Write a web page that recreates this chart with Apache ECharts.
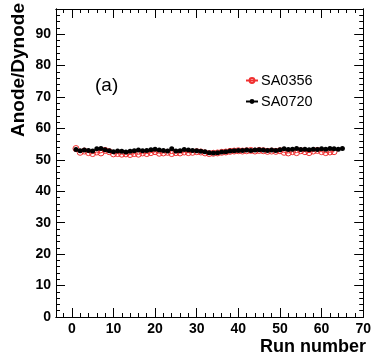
<!DOCTYPE html>
<html><head><meta charset="utf-8">
<script src="https://cdn.jsdelivr.net/npm/echarts@6/dist/echarts.min.js"></script>
<style>html,body{margin:0;padding:0;background:#fff}#c{width:374px;height:361px}</style>
</head><body><div id="c"></div>
<script>
const xMajor = [0,10,20,30,40,50,60,70];
const yMajor = [0,10,20,30,40,50,60,70,80,90];
const xMinor = [-2,2,4,6,8,12,14,16,18,22,24,26,28,32,34,36,38,42,44,46,48,52,54,56,58,62,64,66,68];
const yMinor = [2,4,6,8,12,14,16,18,22,24,26,28,32,34,36,38,42,44,46,48,52,54,56,58,62,64,66,68,72,74,76,78,82,84,86,88,92,94,96];
const runsA = [1,2,3,4,5,6,7,8,9,10,11,12,13,14,15,16,17,18,19,20,21,22,23,24,25,26,27,28,29,30,31,32,33,34,35,36,37,38,39,40,41,42,43,44,45,46,47,48,49,50,51,52,53,54,55,56,57,58,59,60,61,62,63];
const sa0356 = [53.6,52.4,52.8,52.3,52.0,52.5,52.2,53.0,52.6,51.9,52.0,51.8,51.9,51.7,52.0,51.8,52.2,52.0,52.3,52.6,52.1,52.2,52.4,52.0,52.3,52.2,52.5,52.3,52.4,52.6,52.5,52.2,52.0,52.1,52.2,52.4,52.5,52.7,52.8,52.9,52.8,52.9,53.0,52.8,53.0,52.9,52.7,52.8,52.7,52.9,52.4,52.2,52.6,52.3,52.9,52.6,52.3,52.8,53.0,52.6,52.3,52.5,52.6];
const runsB = [1,2,3,4,5,6,7,8,9,10,11,12,13,14,15,16,17,18,19,20,21,22,23,24,25,26,27,28,29,30,31,32,33,34,35,36,37,38,39,40,41,42,43,44,45,46,47,48,49,50,51,52,53,54,55,56,57,58,59,60,61,62,63,64,65];
const sa0720 = [53.3,52.9,53.1,53.0,52.8,53.5,53.6,53.2,52.9,52.6,52.8,52.7,52.5,52.7,52.9,53.1,52.9,53.0,53.2,53.4,53.1,53.0,52.8,53.5,52.8,52.9,53.3,53.1,53.0,52.9,52.7,52.6,52.3,52.2,52.3,52.5,52.6,52.8,52.9,53.0,53.0,53.1,53.0,53.1,53.2,53.1,53.0,53.1,53.0,53.2,53.5,53.3,53.4,53.6,53.3,53.4,53.2,53.4,53.3,53.5,53.4,53.6,53.5,53.4,53.6];

const FONT = 'Liberation Sans, Arial, Helvetica, sans-serif';
const XMIN = -3.8, XMAX = 70, YMIN = 0, YMAX = 98;
const line = {show:true, onZero:false, lineStyle:{color:'#000', width:1}};
function xa(pos, ticks, len, labels){
  return {type:'value', position:pos, min:XMIN, max:XMAX, axisLine:line,
    axisTick:{show:true, inside:true, length:len, customValues:ticks, lineStyle:{color:'#000',width:1}},
    axisLabel: labels ? {show:true, customValues:ticks, margin:5, color:'#000', fontFamily:FONT, fontWeight:'bold', fontSize:14} : {show:false},
    splitLine:{show:false}};
}
function ya(pos, ticks, len, labels){
  return {type:'value', position:pos, min:YMIN, max:YMAX, axisLine:line,
    axisTick:{show:true, inside:true, length:len, customValues:ticks, lineStyle:{color:'#000',width:1}},
    axisLabel: labels ? {show:true, customValues:ticks, margin:5, color:'#000', fontFamily:FONT, fontWeight:'bold', fontSize:14} : {show:false},
    splitLine:{show:false}};
}
const chart = echarts.init(document.getElementById('c'), null, {renderer:'canvas'});
chart.setOption({
  animation:false,
  backgroundColor:'#fff',
  grid:{left:56, right:8, top:9, bottom:44, containLabel:false},
  xAxis:[xa('bottom', xMajor, 9, true), xa('bottom', xMinor, 4, false), xa('top', xMajor, 9, false), xa('top', xMinor, 4, false)],
  yAxis:[ya('left', yMajor, 9, true), ya('left', yMinor, 4, false), ya('right', yMajor, 9, false), ya('right', yMinor, 4, false)],
  legend:{orient:'vertical', left:240, top:68, itemWidth:12, itemHeight:6, itemGap:6,
    textStyle:{fontFamily:FONT, fontSize:14.5, color:'#000', padding:[0,0,0,-2]},
    data:['SA0356','SA0720']},
  graphic:[
    {type:'text', x:95, y:86, style:{text:'(a)', font:'19px '+FONT, fill:'#000', textVerticalAlign:'middle'}},
    {type:'text', x:366, y:347, style:{text:'Run number', font:'bold 18px '+FONT, fill:'#000', textAlign:'right', textVerticalAlign:'middle'}},
    {type:'text', x:19, y:3, rotation:Math.PI/2, style:{text:'Anode/Dynode', font:'bold 19px '+FONT, fill:'#000', textAlign:'right', textVerticalAlign:'middle'}}
  ],
  series:[
    {name:'SA0720', type:'line', data:runsB.map((r,i)=>[r,sa0720[i]]), symbol:'circle', symbolSize:5,
      itemStyle:{color:'#000'}, lineStyle:{color:'#000', width:1}, z:3},
    {name:'SA0356', type:'line', data:runsA.map((r,i)=>[r,sa0356[i]]), symbol:'circle', symbolSize:6,
      itemStyle:{color:'rgba(255,255,255,0)', borderColor:'#f03030', borderWidth:1}, lineStyle:{color:'#f03030', width:1}, z:2}
  ]
});
</script></body></html>
